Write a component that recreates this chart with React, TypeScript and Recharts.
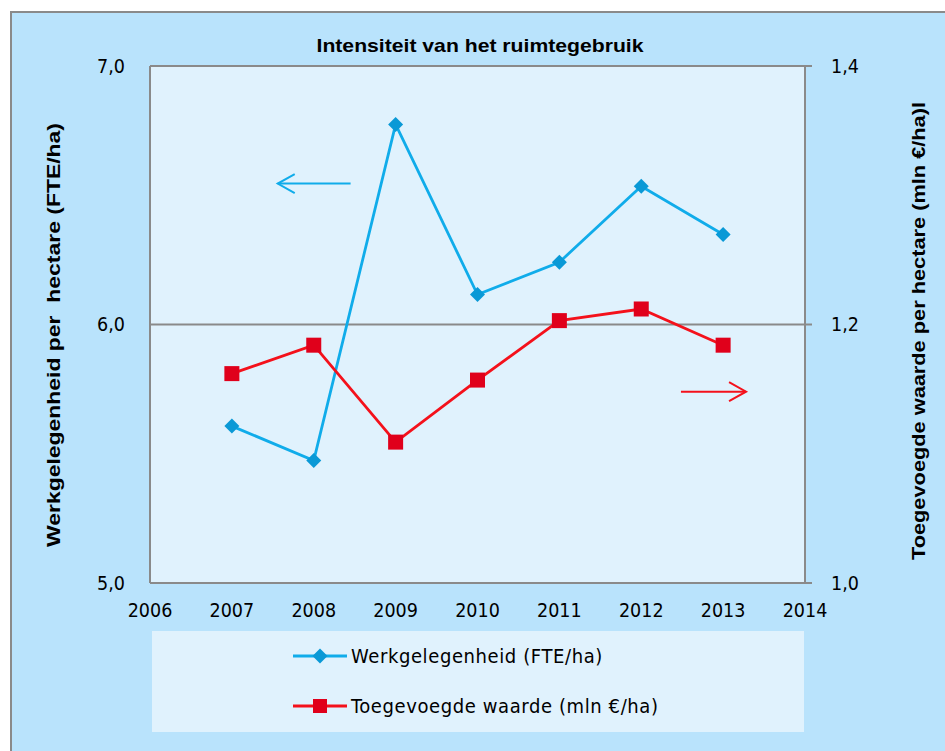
import React from 'react';
import { LineChart, Line, XAxis, YAxis, CartesianGrid, ReferenceLine } from 'recharts';

const years = [2007, 2008, 2009, 2010, 2011, 2012, 2013];
const werkgelegenheid = [5.607, 5.474, 6.774, 6.116, 6.241, 6.535, 6.348];
const toegevoegdeWaarde = [1.162, 1.184, 1.109, 1.157, 1.203, 1.212, 1.184];
const xTicks = [2006, 2007, 2008, 2009, 2010, 2011, 2012, 2013, 2014];
const leftTicks = [5, 6, 7];
const rightTicks = [1.0, 1.2, 1.4];
const seriesNames = ['Werkgelegenheid (FTE/ha)', 'Toegevoegde waarde (mln €/ha)'];
const titleText = 'Intensiteit van het ruimtegebruik';
const leftAxisTitle = 'Werkgelegenheid per  hectare (FTE/ha)';
const rightAxisTitle = 'Toegevoegde waarde per hectare (mln €/ha)l';
const arrowLeft = [{ x: 2008.45, y: 6.545 }, { x: 2007.56, y: 6.545 }];
const arrowRight = [{ x: 2012.485, y: 1.148 }, { x: 2013.28, y: 1.148 }];

const data = years.map((year, i) => ({ year, werk: werkgelegenheid[i], waarde: toegevoegdeWaarde[i] }));

const BLUE_LINE = '#10acea';
const BLUE_DOT = '#0a99d6';
const RED_LINE = '#f4111b';
const RED_DOT = '#e0001b';
const GRAY = '#8a8a8a';
const BG = '#b9e3fc';
const PLOT_BG = '#e0f2fd';
const TICK_FONT = '"DejaVu Sans Condensed", "DejaVu Sans", sans-serif';
const BOLD_FONT = '"Liberation Sans", Arial, sans-serif';

const fmt = (v: number) => v.toFixed(1).replace('.', ',');

const Diamond = (props: any) => {
  const { cx, cy, index } = props;
  if (cx == null || cy == null) return <g key={index} />;
  const r = 7.5;
  return (
    <polygon
      key={index}
      points={`${cx},${cy - r} ${cx + r},${cy} ${cx},${cy + r} ${cx - r},${cy}`}
      fill={BLUE_DOT}
    />
  );
};

const Square = (props: any) => {
  const { cx, cy, index } = props;
  if (cx == null || cy == null) return <g key={index} />;
  const s = 7.5;
  return <rect key={index} x={cx - s} y={cy - s} width={2 * s} height={2 * s} fill={RED_DOT} />;
};

const arrowShape = (color: string) => (props: any) => {
  const { x1, y1, x2, y2 } = props;
  const dir = Math.sign(x2 - x1) || 1;
  return (
    <g>
      <line x1={x1} y1={y1} x2={x2} y2={y2} stroke={color} strokeWidth={2} />
      <polyline
        points={`${x2 - dir * 17},${y2 - 9.5} ${x2},${y2} ${x2 - dir * 17},${y2 + 9.5}`}
        fill="none"
        stroke={color}
        strokeWidth={2}
      />
    </g>
  );
};

const LegendMarker = ({ kind }: { kind: 'diamond' | 'square' }) => (
  <svg width={56} height={20} style={{ display: 'block' }}>
    <line x1={1} y1={10} x2={55} y2={10} stroke={kind === 'diamond' ? BLUE_LINE : RED_LINE} strokeWidth={3} />
    {kind === 'diamond' ? (
      <polygon points="28,2.5 35.5,10 28,17.5 20.5,10" fill={BLUE_DOT} />
    ) : (
      <rect x={21} y={3} width={14} height={14} fill={RED_DOT} />
    )}
  </svg>
);

export default function App() {
  return (
    <div style={{ position: 'fixed', left: 0, top: 0, width: 945, height: 751, background: '#fff', overflow: 'hidden' }}>
      <div
        style={{
          position: 'absolute',
          left: 10,
          top: 11,
          width: 960,
          height: 760,
          background: BG,
          borderTop: `2px solid ${GRAY}`,
          borderLeft: `2px solid ${GRAY}`,
        }}
      />
      <div style={{ position: 'absolute', left: 0, top: 0 }}>
        <LineChart width={945} height={751} data={data} margin={{ top: 66, right: 0, bottom: 128, left: 0 }}>
          <CartesianGrid
            yAxisId="left"
            vertical={false}
            stroke={GRAY}
            strokeWidth={2}
            fill={PLOT_BG}
            fillOpacity={1}
            horizontalValues={leftTicks}
          />
          <XAxis
            dataKey="year"
            type="number"
            domain={[2006, 2014]}
            ticks={xTicks}
            allowDecimals={false}
            tickLine={false}
            axisLine={{ stroke: GRAY, strokeWidth: 2 }}
            tickSize={6}
            tickMargin={14}
            height={40}
            tick={{ fill: '#000', fontSize: 19.5, fontFamily: TICK_FONT }}
          />
          <YAxis
            yAxisId="left"
            orientation="left"
            domain={[5, 7]}
            ticks={leftTicks}
            tickFormatter={fmt}
            width={150}
            tickLine={false}
            axisLine={{ stroke: GRAY, strokeWidth: 2 }}
            tickSize={6}
            tickMargin={19}
            tick={{ fill: '#000', fontSize: 19.5, fontFamily: TICK_FONT }}
          />
          <YAxis
            yAxisId="right"
            orientation="right"
            domain={[1.0, 1.4]}
            ticks={rightTicks}
            tickFormatter={fmt}
            width={140}
            tickLine={{ stroke: GRAY, strokeWidth: 2 }}
            axisLine={{ stroke: GRAY, strokeWidth: 2 }}
            tickSize={7}
            tickMargin={19}
            tick={{ fill: '#000', fontSize: 19.5, fontFamily: TICK_FONT }}
          />
          <ReferenceLine yAxisId="left" segment={arrowLeft} shape={arrowShape(BLUE_LINE)} ifOverflow="visible" />
          <ReferenceLine yAxisId="right" segment={arrowRight} shape={arrowShape(RED_LINE)} ifOverflow="visible" />
          <Line
            yAxisId="left"
            type="linear"
            dataKey="werk"
            name={seriesNames[0]}
            stroke={BLUE_LINE}
            strokeWidth={2.8}
            dot={Diamond}
            activeDot={false}
            isAnimationActive={false}
          />
          <Line
            yAxisId="right"
            type="linear"
            dataKey="waarde"
            name={seriesNames[1]}
            stroke={RED_LINE}
            strokeWidth={2.8}
            dot={Square}
            activeDot={false}
            isAnimationActive={false}
          />
        </LineChart>
      </div>
      <svg width={945} height={751} style={{ position: 'absolute', left: 0, top: 0, pointerEvents: 'none' }}>
        <text
          x={480}
          y={51.5}
          textAnchor="middle"
          fontFamily={BOLD_FONT}
          fontWeight="bold"
          fontSize={18.5}
          textLength={327}
          lengthAdjust="spacingAndGlyphs"
        >
          {titleText}
        </text>
        <text
          transform="translate(53,335) rotate(-90)"
          textAnchor="middle"
          dominantBaseline="central"
          fontFamily={BOLD_FONT}
          fontWeight="bold"
          fontSize={19}
          textLength={424}
          lengthAdjust="spacingAndGlyphs"
          style={{ whiteSpace: 'pre' }}
        >
          {leftAxisTitle}
        </text>
        <text
          transform="translate(918,331) rotate(-90)"
          textAnchor="middle"
          dominantBaseline="central"
          fontFamily={BOLD_FONT}
          fontWeight="bold"
          fontSize={19}
          textLength={458}
          lengthAdjust="spacingAndGlyphs"
        >
          {rightAxisTitle}
        </text>
      </svg>
      <div
        style={{
          position: 'absolute',
          left: 152,
          top: 631,
          width: 652,
          height: 101,
          background: PLOT_BG,
          fontFamily: TICK_FONT,
          fontSize: 20,
          letterSpacing: 0.6,
          color: '#000',
        }}
      >
        {seriesNames.map((name, i) => (
          <div
            key={name}
            style={{
              position: 'absolute',
              left: 140,
              top: i === 0 ? 15 : 64.5,
              height: 20,
              display: 'flex',
              alignItems: 'center',
              whiteSpace: 'nowrap',
            }}
          >
            <LegendMarker kind={i === 0 ? 'diamond' : 'square'} />
            <span style={{ marginLeft: 3, lineHeight: '20px' }}>{name}</span>
          </div>
        ))}
      </div>
    </div>
  );
}
